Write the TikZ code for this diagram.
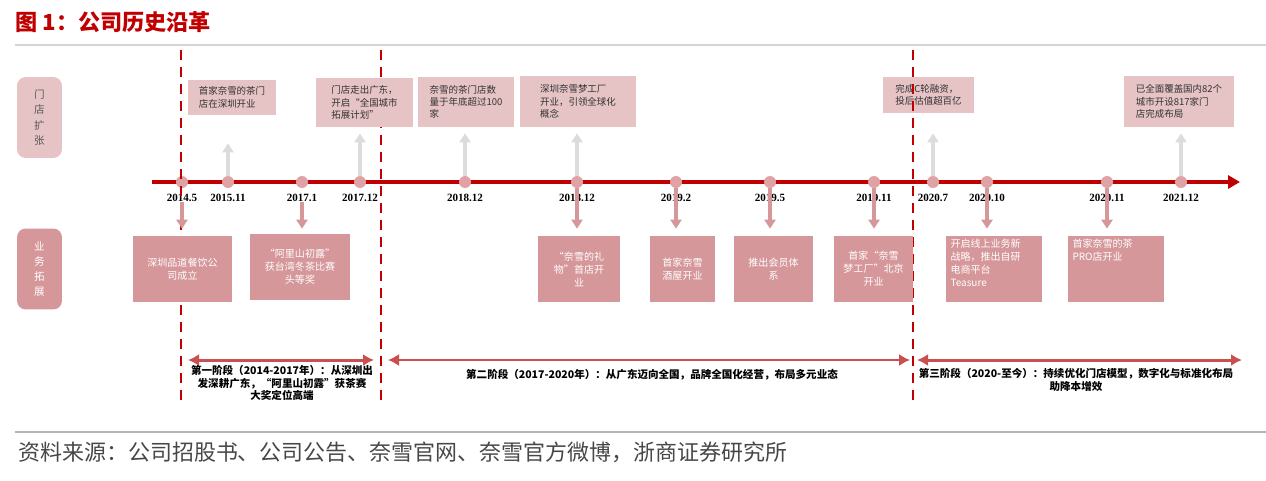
\documentclass[tikz,border=0pt]{standalone}
\usepackage{fontspec}
\setmainfont{Liberation Serif}
\newfontfamily\cjk{Noto Sans CJK SC}
\usetikzlibrary{arrows.meta, positioning, calc}

\definecolor{tlred}{HTML}{C00000}
\definecolor{boxpink}{HTML}{E6C3C5}
\definecolor{boxrose}{HTML}{D6979A}
\definecolor{dotpink}{HTML}{E0A3A5}
\definecolor{upgray}{HTML}{DCDCDC}
\definecolor{phasered}{HTML}{C9504F}
\definecolor{rulegray}{HTML}{D4D4D4}

\tikzset{
    sidebox/.style={rounded corners=5pt, align=center, minimum width=0.9cm, minimum height=1.62cm, inner sep=0pt, font=\cjk\fontsize{6}{8.6}\selectfont},
    topbox/.style={fill=boxpink, align=left, inner sep=0pt, text=black!80, font=\cjk\fontsize{5.4}{7}\selectfont},
    botbox/.style={fill=boxrose, align=center, inner sep=0pt, text=white, font=\cjk\fontsize{5.7}{7.4}\selectfont, minimum height=1.32cm},
    datedot/.style={circle, fill=dotpink, minimum size=0.24cm, inner sep=0pt},
    datelabel/.style={inner sep=0pt, font=\bfseries\fontsize{6.3}{7}\selectfont},
    uparrow/.style={-{Triangle[length=0.18cm, width=0.22cm]}, line width=2.2pt, upgray},
    downarrow/.style={-{Triangle[length=0.18cm, width=0.22cm]}, line width=2pt, boxrose},
    phasearrow/.style={{Latex[length=0.22cm, width=0.24cm]}-{Latex[length=0.22cm, width=0.24cm]}, line width=1.7pt, phasered},
    phasetext/.style={align=center, inner sep=0pt, font=\cjk\bfseries\fontsize{6}{7.3}\selectfont},
    divider/.style={tlred, line width=1.2pt, dash pattern=on 0.2cm off 0.14cm}
}

\begin{document}
\begin{tikzpicture}[x=0.02cm, y=-0.02cm]
    \useasboundingbox (0,0) rectangle (1266,480);

    % title, rules, source
    \node[anchor=west, inner sep=0pt, text=tlred, font=\cjk\bfseries\fontsize{12.6}{14}\selectfont] (title) at (15,22) {图 1：公司历史沿革};
    \draw[rulegray, line width=1pt] (15,45) -- (1266,45);
    \draw[rulegray!85!black, line width=1.2pt] (15,432) -- (1266,432);
    \node[anchor=west, inner sep=0pt, text=black!72, font=\cjk\fontsize{12.5}{14}\selectfont] (source) at (18,452) {资料来源：公司招股书、公司公告、奈雪官网、奈雪官方微博，浙商证券研究所};

    % row labels
    \node[sidebox, fill=boxpink, text=black!65] (store) at (39.5,117.5) {门\\店\\扩\\张};
    \node[sidebox, fill=boxrose, text=white] (biz) at (39.5,269) {业\\务\\拓\\展};

    % time axis
    \coordinate (axisstart) at (152,182);
    \coordinate (axisend) at (1240,182);
    \draw[tlred, line width=2.3pt, -{Triangle[length=0.24cm, width=0.26cm]}] (axisstart) -- (axisend);

    \foreach \x/\name/\date in {182/d1/2014.5, 228/d2/2015.11, 302/d3/2017.1, 360/d4/2017.12,
        465/d5/2018.12, 577/d6/2018.12, 676/d7/2019.2, 770/d8/2019.5, 874/d9/2019.11,
        933/d10/2020.7, 987/d11/2020.10, 1107/d12/2020.11, 1181/d13/2021.12}{
        \node[datedot] (\name) at (\x,182) {};
        \node[datelabel, below=0.1cm of \name] (l\name) {\date};
    }

    % store expansion
    \node[topbox, minimum width=1.82cm, minimum height=0.72cm] (t5) at (928.5,95) {完成C轮融资，\\投后估值超百亿};

    % stage dividers
    \foreach \x in {181,381,913}
        \draw[divider] (\x,50) -- (\x,405);

    \node[topbox, minimum width=1.76cm, minimum height=0.70cm] (t1) at (232,97.5) {首家奈雪的茶门\\店在深圳开业};
    \node[topbox, minimum width=1.94cm, minimum height=0.98cm] (t2) at (364.5,102.5) {门店走出广东，\\开启“全国城市\\拓展计划”};
    \node[topbox, minimum width=1.92cm, minimum height=1.00cm] (t3) at (466,102) {奈雪的茶门店数\\量于年底超过100\\家};
    \node[topbox, minimum width=2.32cm, minimum height=1.02cm] (t4) at (578,101.5) {深圳奈雪梦工厂\\开业，引领全球化\\概念};
    \node[topbox, minimum width=2.20cm, minimum height=1.02cm] (t6) at (1179,101.5) {已全面覆盖国内82个\\城市开设817家门\\店完成布局};

    \foreach \d/\t/\gap in {d2/t1/0.56, d4/t2/0.12, d5/t3/0.12, d6/t4/0.12, d10/t5/0.4, d13/t6/0.12}
        \draw[uparrow, shorten >=\gap cm] (\d.north) -- (\d |- \t.south);

    % business expansion
    \node[botbox, minimum width=1.98cm] (b1) at (182.5,269) {深圳品道餐饮公\\司成立};
    \node[botbox, minimum width=2.00cm] (b2) at (300,267) {“阿里山初露”\\获台湾冬茶比赛\\头等奖};
    \node[botbox, minimum width=1.64cm] (b3) at (579,269) {“奈雪的礼\\物”首店开\\业};
    \node[botbox, minimum width=1.30cm] (b4) at (682.5,269) {首家奈雪\\酒屋开业};
    \node[botbox, minimum width=1.58cm] (b5) at (773.5,269) {推出会员体\\系};
    \node[botbox, minimum width=1.58cm] (b6) at (873.5,269) {首家“奈雪\\梦工厂”北京\\开业};
    \node[botbox, minimum width=1.92cm, align=left] (b7) at (994,269) {\parbox[c][1.2cm][t]{1.74cm}{\raggedright 开启线上业务新\\战略，推出自研\\电商平台\\Teasure}};
    \node[botbox, minimum width=1.92cm, align=left] (b8) at (1116,269) {\parbox[c][1.2cm][t]{1.74cm}{\raggedright 首家奈雪的茶\\PRO店开业}};

    \draw[downarrow, shorten >=0.14cm] (ld1.south) -- (ld1.south |- b1.north);
    \draw[downarrow, shorten >=0.1cm] (ld3.south) -- (ld3.south |- b2.north);
    \foreach \d/\b in {d6/b3, d7/b4, d8/b5, d9/b6, d11/b7, d12/b8}
        \draw[downarrow, shorten >=0.14cm] (\d.south) -- (\d |- \b.north);

    % stages
    \coordinate (p1a) at (188,360);
    \coordinate (p1b) at (374,360);
    \coordinate (p2a) at (388,360);
    \coordinate (p2b) at (910,360);
    \coordinate (p3a) at (917,360);
    \coordinate (p3b) at (1242,360);
    \draw[phasearrow] (p1a) -- (p1b);
    \draw[phasearrow, line width=1pt] (p2a) -- (p2b);
    \draw[phasearrow] (p3a) -- (p3b);

    \node[phasetext] (s1) at (282,383) {第一阶段（2014-2017年）：从深圳出\\发深耕广东，“阿里山初露”获茶赛\\大奖定位高端};
    \node[phasetext] (s2) at (652,375) {第二阶段（2017-2020年）：从广东迈向全国，品牌全国化经营，布局多元业态};
    \node[phasetext] (s3) at (1076,380) {第三阶段（2020-至今）：持续优化门店模型，数字化与标准化布局\\助降本增效};
\end{tikzpicture}
\end{document}
